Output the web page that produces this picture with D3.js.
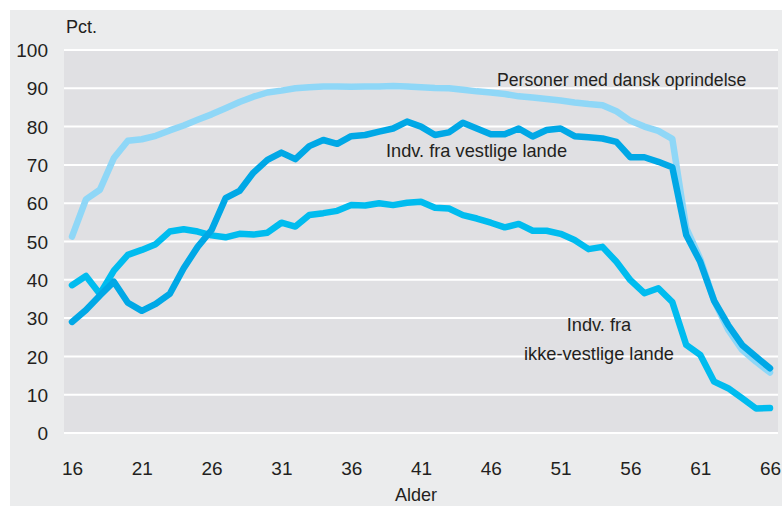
<!DOCTYPE html>
<html>
<head>
<meta charset="utf-8">
<script src="https://cdn.jsdelivr.net/npm/d3@7"></script>
<style>
  body { margin: 0; background: #fff; }
  svg text { font-family: "Liberation Sans", Arial, sans-serif; fill: #231f20; }
</style>
</head>
<body>
<div id="chart"></div>
<script>
var ages = d3.range(16, 67);
var xTicks = [16, 21, 26, 31, 36, 41, 46, 51, 56, 61, 66];
var yTicks = [0, 10, 20, 30, 40, 50, 60, 70, 80, 90, 100];

var dansk = [51.3, 61, 63.5, 71.8, 76.3, 76.7, 77.6, 79, 80.3, 81.8, 83.2, 84.8, 86.4, 87.8, 88.9,
  89.4, 90, 90.3, 90.5, 90.5, 90.4, 90.5, 90.5, 90.6, 90.5, 90.3, 90.1, 90, 89.6, 89.2, 88.9,
  88.5, 87.9, 87.6, 87.2, 86.8, 86.3, 85.9, 85.6, 84, 81.5, 80, 78.9, 76.8, 53.5, 45.5, 34.5,
  27, 21.7, 18.6, 15.8];
var vestlige = [29, 32.1, 35.9, 39.5, 34, 31.9, 33.7, 36.3, 43, 48.6, 53, 61.3, 63.2, 68, 71.3,
  73.2, 71.5, 74.9, 76.5, 75.5, 77.5, 77.8, 78.7, 79.5, 81.3, 80, 77.8, 78.5, 81, 79.5, 78,
  78, 79.5, 77.4, 79.1, 79.5, 77.5, 77.2, 76.9, 76, 72, 72, 70.8, 69.4, 51.7, 44.7, 34.5,
  28.2, 23, 19.9, 16.9];
var ikkeVestlige = [38.6, 41, 36.3, 42.4, 46.5, 47.8, 49.3, 52.6, 53.2, 52.6, 51.6, 51.1, 52, 51.8, 52.3,
  54.9, 53.9, 56.9, 57.4, 58, 59.5, 59.4, 60, 59.5, 60.1, 60.4, 58.8, 58.6, 56.9, 56, 54.9,
  53.7, 54.6, 52.8, 52.8, 52, 50.4, 48, 48.6, 44.7, 39.9, 36.5, 37.8, 34.2, 23, 20.4, 13.4,
  11.7, 9.1, 6.4, 6.5];

var series = [
  {name: "dansk", values: dansk, color: "#8fd7f7"},
  {name: "ikke", values: ikkeVestlige, color: "#00bcef"},
  {name: "vestlige", values: vestlige, color: "#00a8e6"}
];

var width = 782, height = 506;
var plotLeft = 64, plotRight = 778, plotTop = 50, plotBottom = 433;

var svg = d3.select("#chart").append("svg")
  .attr("width", width)
  .attr("height", height);

svg.append("rect")
  .attr("x", 10).attr("y", 10)
  .attr("width", width - 10).attr("height", height - 10)
  .attr("fill", "#ebeced");

svg.append("rect")
  .attr("x", plotLeft).attr("y", plotTop)
  .attr("width", plotRight - plotLeft).attr("height", plotBottom - plotTop + 1)
  .attr("fill", "#e0e0e3");

var x = d3.scaleLinear().domain([16, 66]).range([72, 770]);
var y = d3.scaleLinear().domain([0, 100]).range([plotBottom, plotTop]);

// grid lines
svg.append("g")
  .selectAll("line")
  .data(yTicks)
  .enter().append("line")
  .attr("x1", plotLeft).attr("x2", plotRight)
  .attr("y1", function(d) { return y(d); })
  .attr("y2", function(d) { return y(d); })
  .attr("stroke", "#fff")
  .attr("stroke-width", 2);

var yAxis = d3.axisLeft(y).tickValues(yTicks).tickSize(0).tickPadding(0);
svg.append("g")
  .attr("transform", "translate(48,0)")
  .call(yAxis)
  .call(function(g) { g.select(".domain").remove(); })
  .selectAll("text")
  .attr("font-size", 19)
  .attr("font-family", null)
  .attr("dy", "0.35em");

var xAxis = d3.axisBottom(x).tickValues(xTicks).tickSize(0).tickPadding(0);
svg.append("g")
  .attr("transform", "translate(0,475)")
  .call(xAxis)
  .call(function(g) { g.select(".domain").remove(); })
  .selectAll("text")
  .attr("font-size", 19)
  .attr("font-family", null)
  .attr("dy", 0);

var line = d3.line()
  .x(function(d, i) { return x(ages[i]); })
  .y(function(d) { return y(d); });

svg.append("g")
  .selectAll("path")
  .data(series)
  .enter().append("path")
  .attr("d", function(s) { return line(s.values); })
  .attr("fill", "none")
  .attr("stroke", function(s) { return s.color; })
  .attr("stroke-width", 6.5)
  .attr("stroke-linejoin", "round")
  .attr("stroke-linecap", "round");

// labels are squeezed a bit, the original font is condensed
var label = function(tx, ty, str, anchor, sx) {
  svg.append("text")
    .attr("transform", "translate(" + tx + "," + ty + ") scale(" + sx + ",1)")
    .attr("font-size", 19)
    .attr("text-anchor", anchor)
    .text(str);
};

label(66, 33, "Pct.", "start", 0.95);
label(416, 501, "Alder", "middle", 0.95);
label(497, 86, "Personer med dansk oprindelse", "start", 0.93);
label(386, 157, "Indv. fra vestlige lande", "start", 0.96);
label(599, 331, "Indv. fra", "middle", 0.96);
label(599, 360, "ikke-vestlige lande", "middle", 0.96);
</script>
</body>
</html>
